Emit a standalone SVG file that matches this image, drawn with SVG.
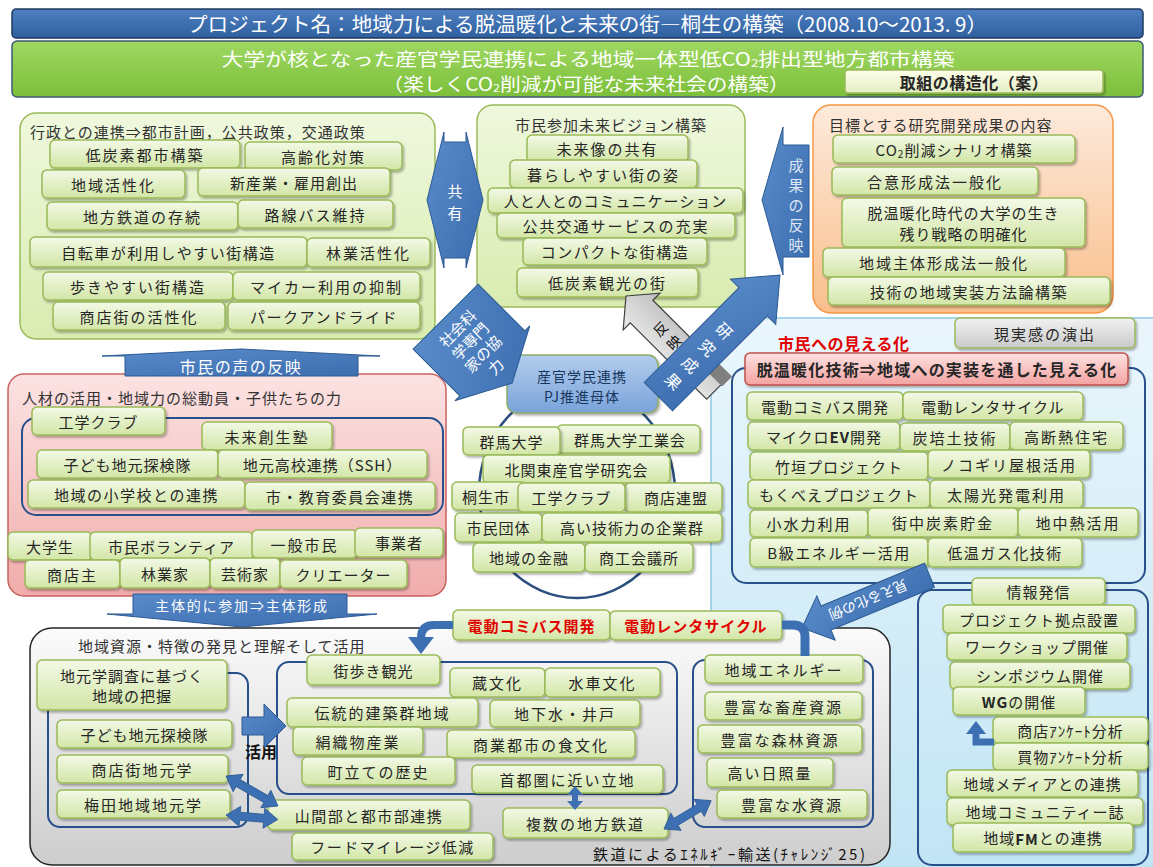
<svg xmlns="http://www.w3.org/2000/svg" width="1153" height="867" viewBox="0 0 1153 867">
<defs>
<linearGradient id="gBox" x1="0" y1="0" x2="0" y2="1"><stop offset="0" stop-color="#f3f9e6"/><stop offset="1" stop-color="#d2e6a6"/></linearGradient>
<linearGradient id="gPanG" x1="0" y1="0" x2="0" y2="1"><stop offset="0" stop-color="#eff8dd"/><stop offset="1" stop-color="#d9ecb0"/></linearGradient>
<linearGradient id="gOr" x1="0" y1="0" x2="0" y2="1"><stop offset="0" stop-color="#fdeadb"/><stop offset="1" stop-color="#f9bf8c"/></linearGradient>
<linearGradient id="gPink" x1="0" y1="0" x2="0" y2="1"><stop offset="0" stop-color="#fce3e3"/><stop offset="1" stop-color="#f0acab"/></linearGradient>
<linearGradient id="gGray" x1="0" y1="0" x2="0" y2="1"><stop offset="0" stop-color="#fbfbfb"/><stop offset="1" stop-color="#cdcdcd"/></linearGradient>
<linearGradient id="gLB" x1="0" y1="0" x2="0" y2="1"><stop offset="0" stop-color="#eaf6fc"/><stop offset="1" stop-color="#bfe4f4"/></linearGradient>
<linearGradient id="gPJ" x1="0" y1="0" x2="0" y2="1"><stop offset="0" stop-color="#b3cdee"/><stop offset="1" stop-color="#7aa3da"/></linearGradient>
<linearGradient id="gRed" x1="0" y1="0" x2="0" y2="1"><stop offset="0" stop-color="#fde2e1"/><stop offset="1" stop-color="#f3a3a1"/></linearGradient>
<linearGradient id="gBtnGray" x1="0" y1="0" x2="0" y2="1"><stop offset="0" stop-color="#f2f2f2"/><stop offset="1" stop-color="#c9c9c9"/></linearGradient>
<linearGradient id="gHead" x1="0" y1="0" x2="0" y2="1"><stop offset="0" stop-color="#4d80c2"/><stop offset="1" stop-color="#2f5f9e"/></linearGradient>
<linearGradient id="gGreen" x1="0" y1="0" x2="0" y2="1"><stop offset="0" stop-color="#9fd862"/><stop offset="1" stop-color="#7cbf3a"/></linearGradient>
<linearGradient id="gArr" x1="0" y1="0" x2="1" y2="1"><stop offset="0" stop-color="#5a8ccb"/><stop offset="1" stop-color="#3b6cae"/></linearGradient>
<linearGradient id="gGrayArr" x1="0" y1="0" x2="1" y2="0"><stop offset="0" stop-color="#ececec"/><stop offset="1" stop-color="#bdbdbd"/></linearGradient>
<linearGradient id="gBtn" x1="0" y1="0" x2="0" y2="1"><stop offset="0" stop-color="#fefee9"/><stop offset="1" stop-color="#e3eec4"/></linearGradient>
<filter id="sh" x="-10%" y="-15%" width="125%" height="150%"><feDropShadow dx="1.5" dy="2" stdDeviation="1.2" flood-color="#000" flood-opacity="0.3"/></filter>
<style>
.bx{fill:url(#gBox);stroke:#9bbb59;stroke-width:1.5;filter:url(#sh)}
.t{font-family:'Noto Sans CJK JP','Noto Sans',sans-serif;font-size:15px;fill:#262626;text-anchor:middle;dominant-baseline:central;letter-spacing:1px}
.ttl{font-family:'Noto Sans CJK JP','Noto Sans',sans-serif;font-size:15px;fill:#333;dominant-baseline:central;letter-spacing:1px}
.inner{fill:none;stroke:#28508a;stroke-width:2}
.arr{fill:url(#gArr);stroke:#2c5a92;stroke-width:1}
.wt{fill:#fff;letter-spacing:0}
.red{fill:#e00000;font-weight:bold}
.hd{font-family:'Noto Sans CJK JP','Noto Sans',sans-serif;font-size:20px;fill:#fff;text-anchor:middle;dominant-baseline:central}
.ln{fill:none;stroke:#3d70b3}
.fl{fill:#3d70b3}
</style>
</defs>
<rect width="1153" height="867" fill="#fff"/>

<!-- header -->
<g id="title">
<rect x="12" y="9" width="1131" height="29" rx="4" fill="url(#gHead)" stroke="#1f3a60" stroke-width="1.5"/>
<text class="hd" x="587" y="23.5" textLength="800" lengthAdjust="spacingAndGlyphs">プロジェクト名：地域力による脱温暖化と未来の街―桐生の構築（2008.10～2013. 9）</text>
</g>
<g id="subtitle">
<rect x="12" y="41" width="1131" height="56" rx="5" fill="url(#gGreen)" stroke="#3c5a78" stroke-width="1.5"/>
<text class="hd" x="588" y="57.5" style="font-size:18px" textLength="733" lengthAdjust="spacingAndGlyphs">大学が核となった産官学民連携による地域一体型低CO<tspan font-size="11" dy="4">2</tspan><tspan dy="-4">排出型地方都市構築</tspan></text>
<text class="hd" x="586" y="83" style="font-size:18px" textLength="407" lengthAdjust="spacingAndGlyphs">（楽しくCO<tspan font-size="11" dy="4">2</tspan><tspan dy="-4">削減が可能な未来社会の構築）</tspan></text>
</g>
<g id="btn-structure">
<rect x="845" y="70" width="258" height="23" rx="3" fill="url(#gBtn)" stroke="#9bbb59" stroke-width="1.5" filter="url(#sh)"/>
<text class="t" x="974" y="81.5" style="font-size:16px;font-weight:bold;letter-spacing:0.5px">取組の構造化（案）</text>
</g>

<!-- right light-blue panel -->
<g id="panel-visible">
<rect x="711" y="318" width="470" height="580" rx="22" fill="url(#gLB)" stroke="#8dc7e3" stroke-width="1.5"/>
</g>

<!-- top-left panel -->
<g id="panel-admin">
<rect x="20" y="113" width="415" height="226" rx="16" fill="url(#gPanG)" stroke="#9bbb59" stroke-width="1.5"/>
<text class="ttl" x="30" y="131">行政との連携⇒都市計画，公共政策，交通政策</text>
</g>
<g id="n-tl1"><rect class="bx" x="50" y="140" width="190" height="28" rx="5"/><text class="t" x="145" y="154" style="letter-spacing:2px">低炭素都市構築</text></g>
<g id="n-tl2"><rect class="bx" x="245" y="142" width="157" height="28" rx="5"/><text class="t" x="323.5" y="156" style="letter-spacing:2px">高齢化対策</text></g>
<g id="n-tl3"><rect class="bx" x="42" y="170" width="143" height="28" rx="5"/><text class="t" x="113.5" y="184" style="letter-spacing:2px">地域活性化</text></g>
<g id="n-tl4"><rect class="bx" x="198" y="168" width="192" height="28" rx="5"/><text class="t" x="294" y="182">新産業・雇用創出</text></g>
<g id="n-tl5"><rect class="bx" x="47" y="202" width="191" height="28" rx="5"/><text class="t" x="142.5" y="216" style="letter-spacing:2px">地方鉄道の存続</text></g>
<g id="n-tl6"><rect class="bx" x="238" y="200" width="155" height="28" rx="5"/><text class="t" x="315.5" y="214" style="letter-spacing:2px">路線バス維持</text></g>
<g id="n-tl7"><rect class="bx" x="30" y="237" width="277" height="30" rx="5"/><text class="t" x="168.5" y="252" style="letter-spacing:1.5px">自転車が利用しやすい街構造</text></g>
<g id="n-tl8"><rect class="bx" x="307" y="238" width="123" height="29" rx="5"/><text class="t" x="368.5" y="252.5" style="letter-spacing:2px">林業活性化</text></g>
<g id="n-tl9"><rect class="bx" x="43" y="272" width="190" height="28" rx="5"/><text class="t" x="138" y="286" style="letter-spacing:2px">歩きやすい街構造</text></g>
<g id="n-tl10"><rect class="bx" x="233" y="272" width="187" height="28" rx="5"/><text class="t" x="326.5" y="286" style="letter-spacing:2px">マイカー利用の抑制</text></g>
<g id="n-tl11"><rect class="bx" x="53" y="302" width="172" height="28" rx="5"/><text class="t" x="139" y="316" style="letter-spacing:2px">商店街の活性化</text></g>
<g id="n-tl12"><rect class="bx" x="228" y="302" width="192" height="28" rx="5"/><text class="t" x="324" y="316" style="letter-spacing:1.5px">パークアンドライド</text></g>

<!-- top-middle panel -->
<g id="panel-vision">
<rect x="477" y="105" width="268" height="202" rx="16" fill="url(#gPanG)" stroke="#9bbb59" stroke-width="1.5"/>
<text class="t" x="611" y="124" style="fill:#333">市民参加未来ビジョン構築</text>
</g>
<g id="n-tm1"><rect class="bx" x="527" y="135" width="161" height="27" rx="5"/><text class="t" x="607.5" y="148.5" style="letter-spacing:2px">未来像の共有</text></g>
<g id="n-tm2"><rect class="bx" x="510" y="160" width="187" height="28" rx="5"/><text class="t" x="603.5" y="174" style="letter-spacing:2px">暮らしやすい街の姿</text></g>
<g id="n-tm3"><rect class="bx" x="488" y="188" width="255" height="25" rx="5"/><text class="t" x="615.5" y="200.5">人と人とのコミュニケーション</text></g>
<g id="n-tm4"><rect class="bx" x="497" y="213" width="238" height="25" rx="5"/><text class="t" x="616" y="225.5" style="letter-spacing:2px">公共交通サービスの充実</text></g>
<g id="n-tm5"><rect class="bx" x="523" y="238" width="184" height="27" rx="5"/><text class="t" x="615" y="251.5" style="letter-spacing:1.5px">コンパクトな街構造</text></g>
<g id="n-tm6"><rect class="bx" x="517" y="268" width="181" height="29" rx="5"/><text class="t" x="607.5" y="282.5" style="letter-spacing:2px">低炭素観光の街</text></g>

<!-- top-right panel -->
<g id="panel-goals">
<rect x="813" y="105" width="300" height="208" rx="18" fill="url(#gOr)" stroke="#f79646" stroke-width="1.5"/>
<text class="ttl" x="829" y="124">目標とする研究開発成果の内容</text>
</g>
<g id="n-tr1"><rect class="bx" x="833" y="135" width="242" height="28" rx="5"/><text class="t" x="954" y="149">CO<tspan font-size="10" dy="4">2</tspan><tspan dy="-4">削減シナリオ構築</tspan></text></g>
<g id="n-tr2"><rect class="bx" x="832" y="167" width="206" height="28" rx="5"/><text class="t" x="935" y="181" style="letter-spacing:2px">合意形成法一般化</text></g>
<g id="n-tr3"><rect class="bx" x="842" y="198" width="243" height="49" rx="5"/><text class="t" x="963.5" y="212">脱温暖化時代の大学の生き</text><text class="t" x="963.5" y="233">残り戦略の明確化</text></g>
<g id="n-tr4"><rect class="bx" x="823" y="248" width="242" height="29" rx="5"/><text class="t" x="944" y="262.5" style="letter-spacing:2px">地域主体形成法一般化</text></g>
<g id="n-tr5"><rect class="bx" x="828" y="277" width="282" height="28" rx="5"/><text class="t" x="969" y="291" style="letter-spacing:1.5px">技術の地域実装方法論構築</text></g>

<!-- pink panel -->
<g id="panel-people">
<rect x="8" y="374" width="438" height="222" rx="16" fill="url(#gPink)" stroke="#c9625f" stroke-width="1.5"/>
<text class="ttl" x="22" y="397">人材の活用・地域力の総動員・子供たちの力</text>
<rect class="inner" x="22" y="418" width="421" height="97" rx="14"/>
</g>
<g id="n-p1"><rect class="bx" x="32" y="407" width="133" height="28" rx="5"/><text class="t" x="98.5" y="421">工学クラブ</text></g>
<g id="n-p2"><rect class="bx" x="202" y="422" width="130" height="28" rx="5"/><text class="t" x="267" y="436" style="letter-spacing:2px">未来創生塾</text></g>
<g id="n-p3"><rect class="bx" x="37" y="450" width="181" height="28" rx="5"/><text class="t" x="127.5" y="464">子ども地元探検隊</text></g>
<g id="n-p4"><rect class="bx" x="218" y="450" width="209" height="28" rx="5"/><text class="t" x="322.5" y="464">地元高校連携（SSH）</text></g>
<g id="n-p5"><rect class="bx" x="28" y="480" width="217" height="28" rx="5"/><text class="t" x="136.5" y="494" style="letter-spacing:1.5px">地域の小学校との連携</text></g>
<g id="n-p6"><rect class="bx" x="245" y="482" width="190" height="28" rx="5"/><text class="t" x="340" y="496" style="letter-spacing:1.5px">市・教育委員会連携</text></g>
<g id="n-p7"><rect class="bx" x="8" y="532" width="84" height="28" rx="5"/><text class="t" x="50" y="546">大学生</text></g>
<g id="n-p8"><rect class="bx" x="90" y="532" width="163" height="28" rx="5"/><text class="t" x="171.5" y="546">市民ボランティア</text></g>
<g id="n-p9"><rect class="bx" x="252" y="530" width="105" height="28" rx="5"/><text class="t" x="304.5" y="544" style="letter-spacing:2px">一般市民</text></g>
<g id="n-p10"><rect class="bx" x="355" y="528" width="88" height="29" rx="5"/><text class="t" x="399" y="542.5">事業者</text></g>
<g id="n-p11"><rect class="bx" x="25" y="560" width="95" height="28" rx="5"/><text class="t" x="72.5" y="574" style="letter-spacing:2px">商店主</text></g>
<g id="n-p12"><rect class="bx" x="120" y="558" width="90" height="30" rx="5"/><text class="t" x="165" y="573">林業家</text></g>
<g id="n-p13"><rect class="bx" x="210" y="558" width="70" height="30" rx="5"/><text class="t" x="245" y="573">芸術家</text></g>
<g id="n-p14"><rect class="bx" x="280" y="560" width="127" height="28" rx="5"/><text class="t" x="343.5" y="574">クリエーター</text></g>

<!-- center -->
<g id="ring"><ellipse cx="577" cy="492" rx="98" ry="106" fill="none" stroke="#2b4f7e" stroke-width="2.5"/></g>
<g id="n-pj">
<rect x="507" y="355" width="151" height="58" rx="10" fill="url(#gPJ)" stroke="#8eaa6a" stroke-width="1.5" filter="url(#sh)"/>
<text class="t" x="582" y="376" style="font-size:14px;fill:#17375e">産官学民連携</text>
<text class="t" x="582" y="396" style="font-size:14px;fill:#17375e">PJ推進母体</text>
</g>
<g id="n-c2"><rect class="bx" x="557" y="425" width="143" height="28" rx="5"/><text class="t" x="630" y="439">群馬大学工業会</text></g>
<g id="n-c1"><rect class="bx" x="463" y="427" width="97" height="28" rx="5"/><text class="t" x="511.5" y="441">群馬大学</text></g>
<g id="n-c3"><rect class="bx" x="483" y="455" width="187" height="28" rx="5"/><text class="t" x="576.5" y="469">北関東産官学研究会</text></g>
<g id="n-c4"><rect class="bx" x="452" y="482" width="75" height="28" rx="5"/><text class="t" x="486" y="496">桐生市</text></g>
<g id="n-c6"><rect class="bx" x="625" y="483" width="97" height="29" rx="5"/><text class="t" x="676" y="497.5">商店連盟</text></g>
<g id="n-c5"><rect class="bx" x="518" y="483" width="107" height="29" rx="5"/><text class="t" x="571.5" y="497.5">工学クラブ</text></g>
<g id="n-c7"><rect class="bx" x="455" y="513" width="87" height="29" rx="5"/><text class="t" x="498.5" y="527.5">市民団体</text></g>
<g id="n-c8"><rect class="bx" x="542" y="513" width="180" height="29" rx="5"/><text class="t" x="632" y="527.5">高い技術力の企業群</text></g>
<g id="n-c9"><rect class="bx" x="473" y="543" width="112" height="29" rx="5"/><text class="t" x="529" y="557.5">地域の金融</text></g>
<g id="n-c10"><rect class="bx" x="585" y="543" width="108" height="29" rx="5"/><text class="t" x="639" y="557.5">商工会議所</text></g>

<!-- right panel content -->
<g id="n-reality"><rect x="955" y="318" width="180" height="30" rx="5" fill="url(#gBtnGray)" stroke="#9bbb59" stroke-width="1.5" filter="url(#sh)"/><text class="t" x="1045" y="333" style="letter-spacing:2px">現実感の演出</text></g>
<g id="lbl-visible"><text class="ttl" x="778" y="343" style="font-size:16px;fill:#e00000;font-weight:bold;letter-spacing:0.5px">市民への見える化</text></g>
<g id="panel-tech"><rect class="inner" x="732" y="368" width="413" height="215" rx="14"/></g>
<g id="n-techhead"><rect x="745" y="353" width="383" height="32" rx="5" fill="url(#gRed)" stroke="#c0504d" stroke-width="1.5" filter="url(#sh)"/><text class="t" x="937" y="369" style="font-size:16px;font-weight:bold;letter-spacing:1.2px">脱温暖化技術⇒地域への実装を通した見える化</text></g>
<g id="n-r1"><rect class="bx" x="747" y="392" width="156" height="28" rx="5"/><text class="t" x="825" y="406">電動コミバス開発</text></g>
<g id="n-r2"><rect class="bx" x="903" y="392" width="180" height="28" rx="5"/><text class="t" x="993" y="406">電動レンタサイクル</text></g>
<g id="n-r3"><rect class="bx" x="748" y="422" width="152" height="28" rx="5"/><text class="t" x="824" y="436">マイクロ<tspan font-weight="bold">EV</tspan>開発</text></g>
<g id="n-r4"><rect class="bx" x="900" y="423" width="110" height="28" rx="5"/><text class="t" x="955" y="437" style="letter-spacing:2px">炭培土技術</text></g>
<g id="n-r5"><rect class="bx" x="1010" y="422" width="113" height="28" rx="5"/><text class="t" x="1066.5" y="436" style="letter-spacing:2px">高断熱住宅</text></g>
<g id="n-r6"><rect class="bx" x="750" y="452" width="178" height="28" rx="5"/><text class="t" x="839" y="466">竹垣プロジェクト</text></g>
<g id="n-r7"><rect class="bx" x="928" y="450" width="162" height="28" rx="5"/><text class="t" x="1009" y="464" style="letter-spacing:2px">ノコギリ屋根活用</text></g>
<g id="n-r8"><rect class="bx" x="748" y="480" width="182" height="28" rx="5"/><text class="t" x="839" y="494">もくべえプロジェクト</text></g>
<g id="n-r9"><rect class="bx" x="930" y="480" width="153" height="28" rx="5"/><text class="t" x="1006.5" y="494" style="letter-spacing:2px">太陽光発電利用</text></g>
<g id="n-r10"><rect class="bx" x="750" y="510" width="118" height="27" rx="5"/><text class="t" x="809" y="523.5" style="letter-spacing:2px">小水力利用</text></g>
<g id="n-r11"><rect class="bx" x="868" y="508" width="150" height="29" rx="5"/><text class="t" x="943" y="522.5" style="letter-spacing:2px">街中炭素貯金</text></g>
<g id="n-r12"><rect class="bx" x="1018" y="508" width="120" height="29" rx="5"/><text class="t" x="1078" y="522.5" style="letter-spacing:2px">地中熱活用</text></g>
<g id="n-r13"><rect class="bx" x="750" y="538" width="178" height="29" rx="5"/><text class="t" x="839" y="552.5" style="letter-spacing:1.5px">B級エネルギー活用</text></g>
<g id="n-r14"><rect class="bx" x="928" y="538" width="154" height="29" rx="5"/><text class="t" x="1005" y="552.5" style="letter-spacing:1.5px">低温ガス化技術</text></g>

<!-- info panel -->
<g id="panel-info"><rect class="inner" x="918" y="590" width="230" height="275" rx="14"/></g>
<g id="n-i1"><rect class="bx" x="972" y="578" width="133" height="27" rx="5"/><text class="t" x="1038.5" y="591.5">情報発信</text></g>
<g id="n-i2"><rect class="bx" x="943" y="605" width="192" height="28" rx="5"/><text class="t" x="1039" y="619">プロジェクト拠点設置</text></g>
<g id="n-i3"><rect class="bx" x="947" y="633" width="180" height="27" rx="5"/><text class="t" x="1037" y="646.5">ワークショップ開催</text></g>
<g id="n-i4"><rect class="bx" x="950" y="662" width="180" height="27" rx="5"/><text class="t" x="1040" y="675.5">シンポジウム開催</text></g>
<g id="n-i5"><rect class="bx" x="953" y="687" width="132" height="28" rx="5"/><text class="t" x="1019" y="701"><tspan font-weight="bold">WG</tspan>の開催</text></g>
<g id="n-i6"><rect class="bx" x="993" y="717" width="155" height="26" rx="5"/><text class="t" x="1070.5" y="730">商店ｱﾝｹｰﾄ分析</text></g>
<g id="n-i7"><rect class="bx" x="993" y="743" width="155" height="27" rx="5"/><text class="t" x="1070.5" y="756.5">買物ｱﾝｹｰﾄ分析</text></g>
<g id="n-i8"><rect class="bx" x="947" y="770" width="191" height="27" rx="5"/><text class="t" x="1042.5" y="783.5">地域メディアとの連携</text></g>
<g id="n-i9"><rect class="bx" x="947" y="798" width="196" height="27" rx="5"/><text class="t" x="1045" y="811.5">地域コミュニティー誌</text></g>
<g id="n-i10"><rect class="bx" x="953" y="823" width="180" height="29" rx="5"/><text class="t" x="1043" y="837.5">地域<tspan font-weight="bold">FM</tspan>との連携</text></g>

<!-- bottom gray panel -->
<g id="panel-resources">
<rect x="30" y="628" width="860" height="237" rx="22" fill="url(#gGray)" stroke="#262626" stroke-width="1.5"/>
<text class="ttl" x="78" y="645">地域資源・特徴の発見と理解そして活用</text>
<rect class="inner" x="48" y="673" width="200" height="154" rx="12"/>
<rect class="inner" x="277" y="662" width="400" height="132" rx="12"/>
<rect class="inner" x="693" y="660" width="180" height="167" rx="12"/>
<text class="ttl" x="245" y="751" style="font-size:16px;font-weight:bold;fill:#111;letter-spacing:0">活用</text>
<text class="ttl" x="593" y="853" style="fill:#111;letter-spacing:0" textLength="272" lengthAdjust="spacing">鉄道によるｴﾈﾙｷﾞｰ輸送(ﾁｬﾚﾝｼﾞ25)</text>
</g>
<g id="n-b1"><rect class="bx" x="37" y="660" width="190" height="50" rx="5"/><text class="t" x="132" y="675">地元学調査に基づく</text><text class="t" x="132" y="695">地域の把握</text></g>
<g id="n-b2"><rect class="bx" x="57" y="720" width="175" height="28" rx="5"/><text class="t" x="144.5" y="734">子ども地元探検隊</text></g>
<g id="n-b3"><rect class="bx" x="57" y="755" width="171" height="28" rx="5"/><text class="t" x="142.5" y="769" style="letter-spacing:2px">商店街地元学</text></g>
<g id="n-b4"><rect class="bx" x="57" y="790" width="173" height="28" rx="5"/><text class="t" x="143.5" y="804" style="letter-spacing:2px">梅田地域地元学</text></g>
<g id="n-b5"><rect class="bx" x="307" y="655" width="133" height="30" rx="5"/><text class="t" x="373.5" y="670">街歩き観光</text></g>
<g id="n-b6"><rect class="bx" x="450" y="668" width="95" height="29" rx="5"/><text class="t" x="497.5" y="682.5" style="letter-spacing:2px">蔵文化</text></g>
<g id="n-b7"><rect class="bx" x="545" y="668" width="115" height="29" rx="5"/><text class="t" x="602.5" y="682.5" style="letter-spacing:2px">水車文化</text></g>
<g id="n-b8"><rect class="bx" x="287" y="698" width="191" height="29" rx="5"/><text class="t" x="382.5" y="712.5" style="letter-spacing:2px">伝統的建築群地域</text></g>
<g id="n-b9"><rect class="bx" x="490" y="700" width="150" height="27" rx="5"/><text class="t" x="565" y="713.5" style="letter-spacing:2px">地下水・井戸</text></g>
<g id="n-b10"><rect class="bx" x="293" y="727" width="130" height="28" rx="5"/><text class="t" x="358" y="741" style="letter-spacing:2px">絹織物産業</text></g>
<g id="n-b11"><rect class="bx" x="447" y="730" width="188" height="28" rx="5"/><text class="t" x="541" y="744" style="letter-spacing:2px">商業都市の食文化</text></g>
<g id="n-b12"><rect class="bx" x="302" y="757" width="153" height="28" rx="5"/><text class="t" x="378.5" y="771" style="letter-spacing:2px">町立ての歴史</text></g>
<g id="n-b13"><rect class="bx" x="472" y="765" width="191" height="28" rx="5"/><text class="t" x="567.5" y="779" style="letter-spacing:2px">首都圏に近い立地</text></g>
<g id="n-b14"><rect class="bx" x="268" y="800" width="202" height="30" rx="5"/><text class="t" x="369" y="815" style="letter-spacing:1.5px">山間部と都市部連携</text></g>
<g id="n-b15"><rect class="bx" x="292" y="833" width="201" height="27" rx="5"/><text class="t" x="392.5" y="846.5" style="letter-spacing:1.5px">フードマイレージ低減</text></g>
<g id="n-b16"><rect class="bx" x="503" y="808" width="165" height="30" rx="5"/><text class="t" x="585.5" y="823" style="letter-spacing:2px">複数の地方鉄道</text></g>
<g id="n-b17"><rect class="bx" x="705" y="655" width="158" height="28" rx="5"/><text class="t" x="784" y="669" style="letter-spacing:2px">地域エネルギー</text></g>
<g id="n-b18"><rect class="bx" x="705" y="692" width="157" height="28" rx="5"/><text class="t" x="783.5" y="706" style="letter-spacing:2px">豊富な畜産資源</text></g>
<g id="n-b19"><rect class="bx" x="698" y="725" width="164" height="28" rx="5"/><text class="t" x="780" y="739" style="letter-spacing:2px">豊富な森林資源</text></g>
<g id="n-b20"><rect class="bx" x="707" y="758" width="126" height="29" rx="5"/><text class="t" x="770" y="772.5" style="letter-spacing:2px">高い日照量</text></g>
<g id="n-b21"><rect class="bx" x="717" y="790" width="150" height="28" rx="5"/><text class="t" x="792" y="804" style="letter-spacing:2px">豊富な水資源</text></g>
<g id="n-ev1"><rect class="bx" x="453" y="610" width="157" height="30" rx="5"/><text class="t red" x="531.5" y="625">電動コミバス開発</text></g>
<g id="n-ev2"><rect class="bx" x="610" y="611" width="172" height="29" rx="5"/><text class="t red" x="696" y="625.5">電動レンタサイクル</text></g>

<!-- connectors -->
<g id="connectors">
<g id="a-share"><polygon class="arr" points="427,200 444,132 444,142 466,142 466,132 483,200 466,268 466,258 444,258 444,268"/>
<text class="t wt" x="455" y="190">共</text><text class="t wt" x="455" y="212">有</text></g>
<g id="a-result"><polygon class="arr" points="762,200 783,127 783,145 809,145 809,257 783,257 783,275"/>
<text class="t wt" x="796" y="164" style="fill:#dce6f2">成</text><text class="t wt" x="796" y="184" style="fill:#dce6f2">果</text><text class="t wt" x="796" y="204" style="fill:#dce6f2">の</text><text class="t wt" x="796" y="224" style="fill:#dce6f2">反</text><text class="t wt" x="796" y="244" style="fill:#dce6f2">映</text></g>
<g id="a-voice"><polygon class="arr" points="102,356 241,349 380,356 358,356 358,376 125,376 125,356"/>
<text class="t wt" x="241" y="366" style="font-size:16px;letter-spacing:1.5px">市民の声の反映</text></g>
<g id="a-join"><polygon class="arr" points="133,594 347,594 347,614 377,614 242,627 107,614 133,614"/>
<text class="t wt" x="242" y="605" style="font-size:14px;letter-spacing:1.8px">主体的に参加⇒主体形成</text></g>
<g id="a-social" transform="translate(448.5,319.5) rotate(-45)"><polygon class="arr" points="-46,-4 46,-4 46,62 53,62 0,90 -53,62 -46,62"/>
<text class="t wt" x="0" y="12">社会科</text><text class="t wt" x="0" y="30">学専門</text><text class="t wt" x="0" y="48">家の協</text><text class="t wt" x="0" y="66">力</text></g>
<g id="a-reflect" transform="translate(626,296) rotate(-45)"><polygon points="0,0 26,22 16,22 16,130 -16,130 -16,22 -26,22" fill="url(#gGrayArr)" stroke="#404040" stroke-width="1.2"/>
<rect x="4" y="108" width="14" height="24" fill="#7f7f7f"/>
<text class="t" x="1" y="47" style="font-size:14px;letter-spacing:0;fill:#111">反</text><text class="t" x="1" y="66" style="font-size:14px;letter-spacing:0;fill:#111">映</text></g>
<g id="a-research" transform="translate(780,275) rotate(45)"><polygon class="arr" points="0,0 32,38 20,38 20,172 -20,172 -20,38 -32,38"/>
<text class="t wt" x="0" y="78" style="font-size:16px">研</text><text class="t wt" x="0" y="102" style="font-size:16px">究</text><text class="t wt" x="0" y="126" style="font-size:16px">成</text><text class="t wt" x="0" y="150" style="font-size:16px">果</text></g>
<g id="a-example" transform="translate(802,628) rotate(-22.5)"><polygon class="arr" points="0,0 26,-24 26,-13 138,-13 138,13 26,13 26,24"/>
<text class="t wt" transform="translate(72,0) rotate(180)" x="0" y="0" style="font-size:14px">見える化の例</text></g>
<g id="a-curve-left"><path class="ln" d="M453,625 H434 Q421,625 421,638" stroke-width="8"/><polygon class="fl" points="408,637 434,637 421,654"/></g>
<g id="a-curve-right"><path class="ln" d="M782,625 H793 Q805,625 805,637 V656" stroke-width="9"/></g>
<g id="a-use"><polygon class="arr" points="242,717 264,717 264,704 286,726 264,748 264,735 242,735"/></g>
<g id="a-rail"><polygon class="fl" points="575,786 583,795 578,795 578,801 583,801 575,810 567,801 572,801 572,795 567,795"/></g>
<path class="fl" stroke="#2c5a92" stroke-width="0.8" transform="translate(226,776) rotate(30)" d="M0,0 L14,-10 L14,-4 L46,-4 L46,-10 L60,0 L46,10 L46,4 L14,4 L14,10 Z"/>
<path class="fl" stroke="#2c5a92" stroke-width="0.8" transform="translate(226,815) rotate(5)" d="M0,0 L14,-10 L14,-4 L38,-4 L38,-10 L52,0 L38,10 L38,4 L14,4 L14,10 Z"/>
<path class="fl" stroke="#2c5a92" stroke-width="0.8" transform="translate(664,829) rotate(-31)" d="M0,0 L14,-10 L14,-4 L41,-4 L41,-10 L55,0 L41,10 L41,4 L14,4 L14,10 Z"/>
<g id="a-survey"><path class="ln" d="M994,742 H976 V733" stroke-width="7"/><polygon class="fl" points="966,734 986,734 976,721"/></g>
</g>
</svg>
